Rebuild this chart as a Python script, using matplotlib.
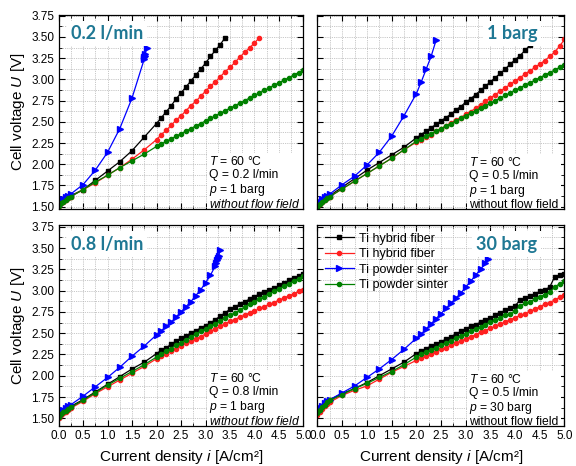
import matplotlib
matplotlib.use("Agg")
import matplotlib.pyplot as plt
from matplotlib.ticker import MultipleLocator

plt.rcParams['font.family'] = ['Liberation Sans', 'DejaVu Sans']
plt.rcParams['mathtext.fontset'] = 'custom'
plt.rcParams['mathtext.rm'] = 'Liberation Sans'
plt.rcParams['mathtext.it'] = 'Liberation Sans:italic'

# current density set points [A/cm2]
I_FULL = [0.0, 0.05, 0.1, 0.15, 0.2, 0.25, 0.5, 0.75, 1.0, 1.25, 1.5, 1.75, 2.0,
          2.1, 2.2, 2.3, 2.4, 2.5, 2.6, 2.7, 2.8, 2.9, 3.0, 3.1, 3.2, 3.3, 3.4,
          3.5, 3.6, 3.7, 3.8, 3.9, 4.0, 4.1, 4.2, 4.3, 4.4, 4.5, 4.6, 4.7, 4.8,
          4.9, 5.0]

# ---- 0.2 l/min, 1 barg ----
a_black = [1.52, 1.55, 1.57, 1.59, 1.61, 1.63, 1.70, 1.81, 1.92, 2.03, 2.16, 2.32, 2.48,
           2.55, 2.62, 2.69, 2.77, 2.84, 2.91, 2.98, 3.05, 3.12, 3.19, 3.27, 3.34, 3.41, 3.49]
a_red = [1.51, 1.54, 1.56, 1.58, 1.60, 1.62, 1.70, 1.78, 1.87, 1.96, 2.06, 2.17, 2.29,
         2.35, 2.40, 2.46, 2.52, 2.57, 2.63, 2.69, 2.74, 2.80, 2.86, 2.92, 2.97, 3.03,
         3.09, 3.14, 3.20, 3.26, 3.32, 3.37, 3.43, 3.49]
a_green = [1.51, 1.54, 1.56, 1.58, 1.60, 1.62, 1.70, 1.79, 1.87, 1.96, 2.04, 2.12, 2.21,
           2.24, 2.27, 2.30, 2.33, 2.36, 2.39, 2.42, 2.45, 2.48, 2.51, 2.54, 2.57, 2.60,
           2.63, 2.66, 2.69, 2.72, 2.75, 2.78, 2.81, 2.84, 2.87, 2.90, 2.93, 2.96, 2.99,
           3.02, 3.05, 3.08, 3.11]
a_blue_i = [0.0, 0.05, 0.1, 0.15, 0.2, 0.25, 0.5, 0.75, 1.0, 1.25, 1.5, 1.75, 1.75, 1.76,
            1.77, 1.8]
a_blue = [1.52, 1.56, 1.59, 1.61, 1.63, 1.65, 1.76, 1.93, 2.14, 2.42, 2.78, 3.24, 3.26,
          3.28, 3.30, 3.37]

# ---- 0.5 l/min, 1 barg ----
b_black = [1.51, 1.54, 1.57, 1.59, 1.61, 1.63, 1.73, 1.83, 1.93, 2.02, 2.11, 2.20, 2.31,
           2.35, 2.39, 2.43, 2.47, 2.51, 2.55, 2.59, 2.64, 2.68, 2.73, 2.77, 2.82, 2.87,
           2.92, 2.97, 3.02, 3.07, 3.12, 3.18, 3.23, 3.28, 3.34, 3.40]
b_red = [1.49, 1.53, 1.56, 1.58, 1.60, 1.62, 1.71, 1.80, 1.89, 1.98, 2.07, 2.17, 2.26,
         2.29, 2.32, 2.35, 2.39, 2.42, 2.45, 2.49, 2.52, 2.55, 2.59, 2.62, 2.66, 2.70,
         2.74, 2.78, 2.82, 2.86, 2.90, 2.94, 2.98, 3.02, 3.06, 3.10, 3.14, 3.18, 3.22,
         3.27, 3.32, 3.39, 3.47]
b_green = [1.50, 1.53, 1.56, 1.58, 1.60, 1.62, 1.71, 1.80, 1.89, 1.98, 2.07, 2.17, 2.27,
           2.30, 2.33, 2.36, 2.39, 2.42, 2.45, 2.48, 2.51, 2.54, 2.57, 2.60, 2.63, 2.66,
           2.69, 2.72, 2.75, 2.78, 2.81, 2.84, 2.87, 2.90, 2.93, 2.96, 2.99, 3.02, 3.05,
           3.08, 3.11, 3.14, 3.17]
b_blue_i = [0.0, 0.05, 0.1, 0.15, 0.2, 0.25, 0.5, 0.75, 1.0, 1.25, 1.5, 1.75, 2.0, 2.1,
            2.2, 2.3, 2.4]
b_blue = [1.52, 1.56, 1.59, 1.61, 1.63, 1.65, 1.76, 1.86, 1.99, 2.14, 2.33, 2.57, 2.83,
          2.97, 3.12, 3.27, 3.46]

# ---- 0.8 l/min, 1 barg ----
c_black = [1.52, 1.55, 1.58, 1.60, 1.62, 1.64, 1.72, 1.81, 1.90, 1.99, 2.08, 2.16, 2.26,
           2.30, 2.33, 2.37, 2.41, 2.44, 2.47, 2.50, 2.53, 2.56, 2.59, 2.62, 2.66, 2.70,
           2.74, 2.78, 2.81, 2.84, 2.87, 2.90, 2.93, 2.96, 2.98, 3.01, 3.03, 3.06, 3.09,
           3.12, 3.15, 3.17, 3.20]
c_red = [1.51, 1.54, 1.56, 1.58, 1.60, 1.62, 1.70, 1.79, 1.87, 1.95, 2.03, 2.11, 2.20,
         2.23, 2.26, 2.29, 2.32, 2.35, 2.38, 2.41, 2.43, 2.46, 2.49, 2.52, 2.55, 2.58,
         2.61, 2.64, 2.66, 2.69, 2.71, 2.74, 2.76, 2.79, 2.81, 2.84, 2.86, 2.89, 2.91,
         2.94, 2.96, 2.99, 3.01]
c_green = [1.52, 1.55, 1.57, 1.59, 1.61, 1.63, 1.71, 1.80, 1.89, 1.97, 2.05, 2.13, 2.22,
           2.25, 2.29, 2.32, 2.36, 2.39, 2.42, 2.45, 2.49, 2.52, 2.55, 2.58, 2.61, 2.64,
           2.68, 2.71, 2.74, 2.77, 2.81, 2.84, 2.87, 2.90, 2.93, 2.96, 2.99, 3.02, 3.05,
           3.08, 3.11, 3.14, 3.17]
c_blue_i = [0.0, 0.05, 0.1, 0.15, 0.2, 0.25, 0.5, 0.75, 1.0, 1.25, 1.5, 1.75, 2.0, 2.1,
            2.2, 2.3, 2.4, 2.5, 2.6, 2.7, 2.8, 2.9, 3.0, 3.1, 3.2, 3.22, 3.24, 3.25, 3.27,
            3.3]
c_blue = [1.53, 1.57, 1.60, 1.62, 1.64, 1.66, 1.76, 1.87, 1.98, 2.10, 2.23, 2.35, 2.48,
          2.53, 2.58, 2.63, 2.69, 2.75, 2.81, 2.87, 2.94, 3.01, 3.09, 3.18, 3.29, 3.33,
          3.36, 3.38, 3.41, 3.48]

# ---- 0.5 l/min, 30 barg ----
d_black = [1.57, 1.61, 1.64, 1.67, 1.70, 1.72, 1.79, 1.85, 1.92, 2.00, 2.08, 2.16, 2.26,
           2.29, 2.32, 2.35, 2.37, 2.40, 2.43, 2.46, 2.49, 2.52, 2.55, 2.58, 2.60, 2.63,
           2.66, 2.68, 2.71, 2.74, 2.77, 2.79, 2.82, 2.89, 2.91, 2.94, 2.96, 2.99, 3.01,
           3.04, 3.16, 3.18, 3.19]
d_red = [1.54, 1.58, 1.61, 1.64, 1.67, 1.69, 1.77, 1.83, 1.88, 1.96, 2.04, 2.11, 2.18,
         2.21, 2.23, 2.26, 2.28, 2.31, 2.33, 2.36, 2.38, 2.41, 2.43, 2.46, 2.48, 2.51,
         2.53, 2.56, 2.58, 2.61, 2.63, 2.66, 2.68, 2.71, 2.73, 2.76, 2.78, 2.81, 2.84,
         2.86, 2.89, 2.92, 2.95]
d_green = [1.56, 1.60, 1.63, 1.66, 1.69, 1.71, 1.78, 1.85, 1.91, 1.98, 2.05, 2.13, 2.22,
           2.25, 2.28, 2.30, 2.33, 2.36, 2.38, 2.41, 2.44, 2.47, 2.49, 2.52, 2.55, 2.57,
           2.60, 2.63, 2.65, 2.68, 2.71, 2.73, 2.76, 2.82, 2.85, 2.87, 2.90, 2.93, 2.95,
           2.98, 3.04, 3.08, 3.11]
d_blue_i = [0.0, 0.05, 0.1, 0.15, 0.2, 0.25, 0.5, 0.75, 1.0, 1.25, 1.5, 1.75, 2.0, 2.1,
            2.2, 2.3, 2.4, 2.5, 2.6, 2.7, 2.8, 2.9, 3.0, 3.1, 3.2, 3.3, 3.4, 3.45]
d_blue = [1.58, 1.62, 1.65, 1.68, 1.70, 1.72, 1.80, 1.88, 1.98, 2.08, 2.19, 2.31, 2.44,
          2.49, 2.55, 2.61, 2.67, 2.73, 2.79, 2.85, 2.91, 2.97, 3.04, 3.11, 3.18, 3.25,
          3.32, 3.37]

panel_tags = ["0.2 l/min", "1 barg", "0.8 l/min", "30 barg"]
cond_text = [["$\\it{T}$ = 60 °C", "Q = 0.2 l/min", "$\\it{p}$ = 1 barg", "$\\it{without\\ flow\\ field}$"],
             ["$\\it{T}$ = 60 °C", "Q = 0.5 l/min", "$\\it{p}$ = 1 barg", "without flow field"],
             ["$\\it{T}$ = 60 °C", "Q = 0.8 l/min", "$\\it{p}$ = 1 barg", "$\\it{without\\ flow\\ field}$"],
             ["$\\it{T}$ = 60 °C", "Q = 0.5 l/min", "$\\it{p}$ = 30 barg", "without flow field"]]
labels = ["Ti hybrid fiber", "Ti hybrid fiber", "Ti powder sinter", "Ti powder sinter"]

panels = [(a_black, a_red, a_blue_i, a_blue, a_green),
          (b_black, b_red, b_blue_i, b_blue, b_green),
          (c_black, c_red, c_blue_i, c_blue, c_green),
          (d_black, d_red, d_blue_i, d_blue, d_green)]

teal = '#1f7894'
fig = plt.figure(figsize=(5.76, 4.66), dpi=100)
rects = [[0.1016, 0.5515, 0.4253, 0.4163],
         [0.5512, 0.5515, 0.4288, 0.4163],
         [0.1016, 0.0858, 0.4253, 0.4313],
         [0.5512, 0.0858, 0.4288, 0.4313]]
ylims = [(1.473, 3.758), (1.473, 3.758), (1.41, 3.77), (1.41, 3.77)]

for k in range(4):
    ax = fig.add_axes(rects[k])
    blk, red, bi, blu, grn = panels[k]
    ax.plot(I_FULL[:len(blk)], blk, color='black', marker='s', ms=3.0, lw=0.9, label=labels[0])
    ax.plot(I_FULL[:len(red)], red, color='#ff2020', marker='o', ms=3.0, lw=0.9, label=labels[1])
    ax.plot(bi, blu, color='#0000ff', marker='>', ms=3.8, lw=0.9, label=labels[2])
    ax.plot(I_FULL[:len(grn)], grn, color='#008000', marker='o', ms=3.0, lw=0.9, label=labels[3])

    ax.set_xlim(0, 5.0)
    ax.set_ylim(*ylims[k])
    ax.xaxis.set_major_locator(MultipleLocator(0.5))
    ax.xaxis.set_minor_locator(MultipleLocator(0.25))
    ax.yaxis.set_major_locator(MultipleLocator(0.25))
    ax.yaxis.set_minor_locator(MultipleLocator(0.125))
    ax.yaxis.set_major_formatter(matplotlib.ticker.FormatStrFormatter('%.2f'))
    ax.xaxis.set_major_formatter(matplotlib.ticker.FormatStrFormatter('%.1f'))
    ax.grid(True, which='both', color='#b4b4b4', linestyle=(0, (1, 1.2)), lw=0.6)
    ax.set_axisbelow(True)
    ax.tick_params(which='both', direction='in', top=True, right=True, labelsize=8.5, pad=3)
    ax.tick_params(which='major', length=4, width=0.8)
    ax.tick_params(which='minor', length=2, width=0.6)
    for s in ax.spines.values():
        s.set_linewidth(0.9)

    if k < 2:
        ax.tick_params(labelbottom=False)
    else:
        ax.set_xlabel("Current density $\\it{i}$ [A/cm²]", fontsize=11, labelpad=4)
    if k % 2 == 1:
        ax.tick_params(labelleft=False)
    else:
        ax.set_ylabel("Cell voltage $\\it{U}$ [V]", fontsize=11, labelpad=3)

    # condition box
    ax.text(0.615, -0.012, "\n".join(cond_text[k]), transform=ax.transAxes, fontsize=8.7,
            ha='left', va='bottom', linespacing=1.08, zorder=2.4,
            bbox=dict(facecolor='white', edgecolor='none', pad=1.5))
    # panel tag
    if k % 2 == 0:
        ax.text(0.05, 0.905, panel_tags[k], transform=ax.transAxes, fontsize=13,
                fontweight='bold', color=teal, family=['Lato', 'DejaVu Sans'],
                ha='left', va='center',
                bbox=dict(facecolor='white', edgecolor='none', pad=3))
    else:
        ax.text(0.89, 0.905, panel_tags[k], transform=ax.transAxes, fontsize=13,
                fontweight='bold', color=teal, family=['Lato', 'DejaVu Sans'],
                ha='right', va='center',
                bbox=dict(facecolor='white', edgecolor='none', pad=3))
    if k == 3:
        ax.legend(loc='upper left', frameon=False, fontsize=9, handlelength=2.3,
                  labelspacing=0.28, borderaxespad=0.2, handletextpad=0.4,
                  bbox_to_anchor=(0.0, 1.0))

fig.savefig("out.png", dpi=100)
